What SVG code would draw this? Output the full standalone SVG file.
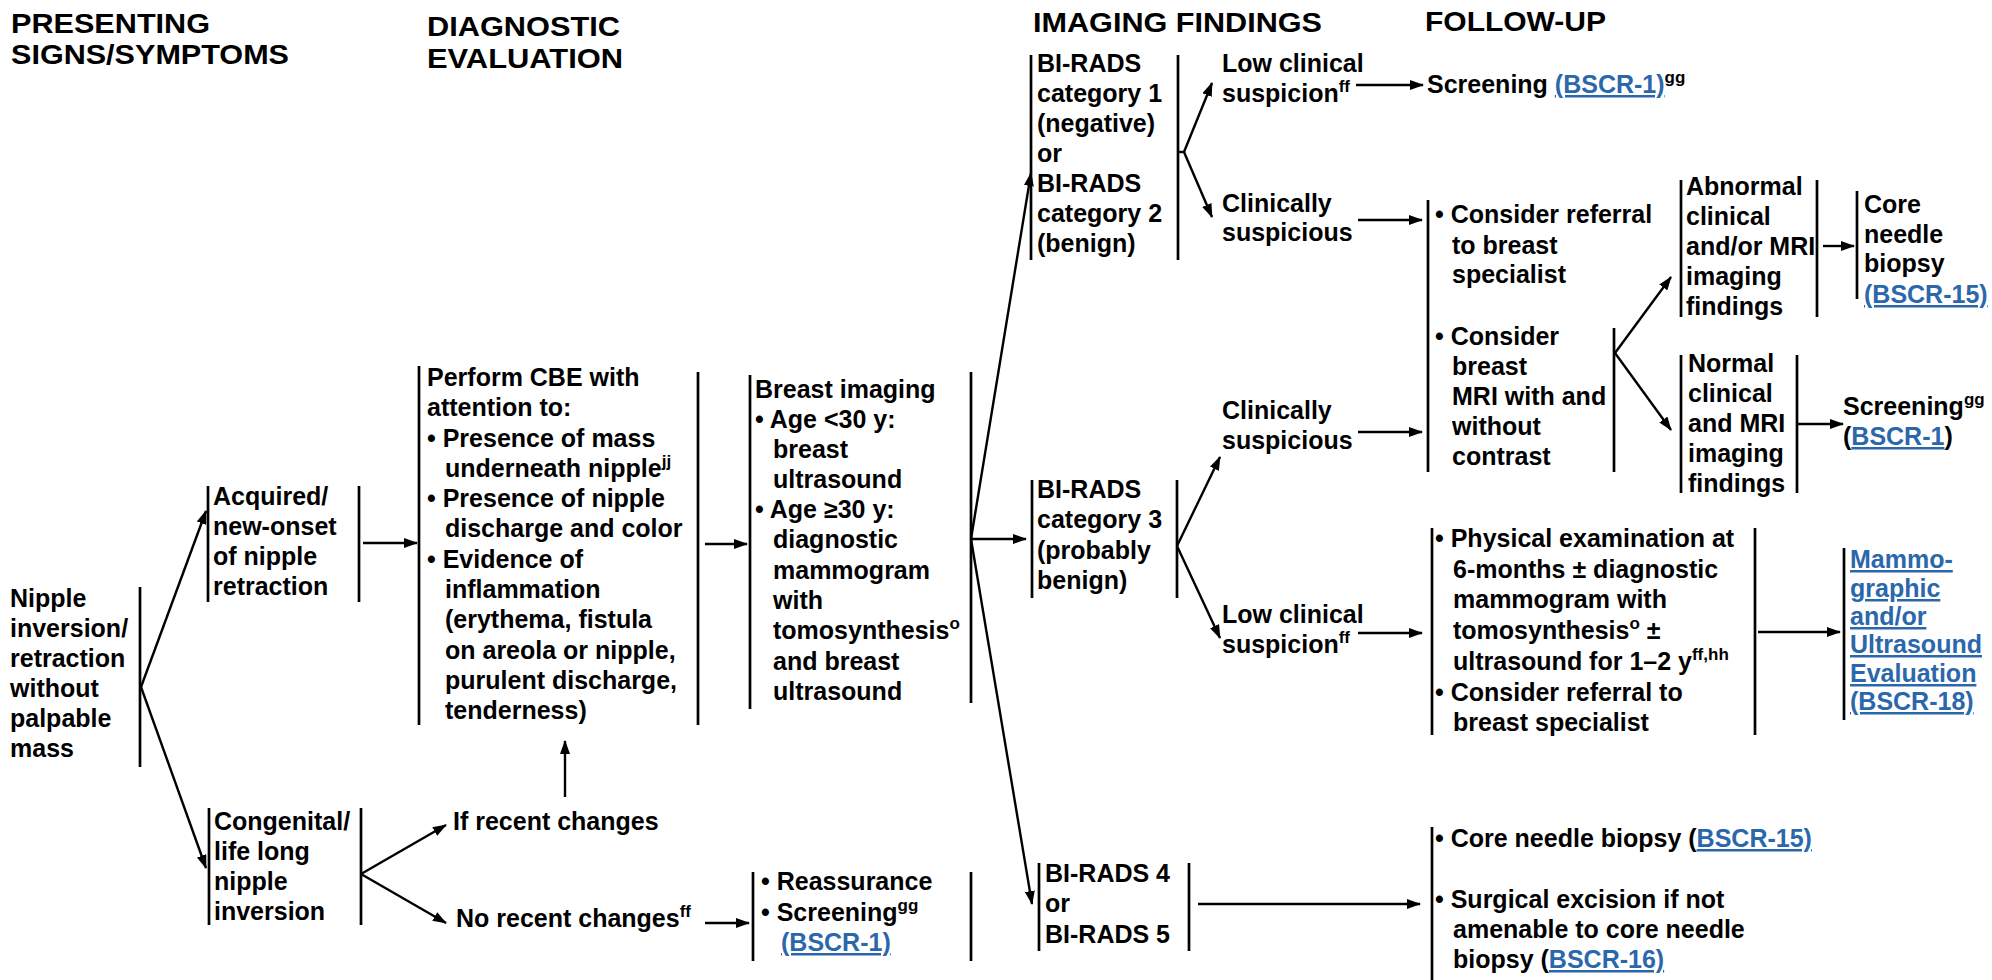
<svg xmlns="http://www.w3.org/2000/svg" width="1992" height="980" viewBox="0 0 1992 980">
  <defs>
    <style>
      text { font-family: "Liberation Sans", Arial, Helvetica, sans-serif; font-weight: bold; font-size: 25px; fill: #000; }
      .hdr { font-size: 28px; }
      .sup { font-size: 17px; }
      .link { fill: #2b67ab; text-decoration: underline; }
      .bar { stroke: #000; stroke-width: 2.7; fill: none; }
      .conn { stroke: #000; stroke-width: 2.4; fill: none; marker-end: url(#arrow); }
      .plain { stroke: #000; stroke-width: 2.4; fill: none; }
    </style>
    <marker id="arrow" viewBox="0 0 14 10" refX="13" refY="5" markerWidth="14" markerHeight="10" markerUnits="userSpaceOnUse" orient="auto">
      <path d="M0,0 L14,5 L0,10 z" fill="#000"/>
    </marker>
  </defs>

  <rect width="1992" height="980" fill="#fff"/>

  <!-- column headings -->
  <g id="headers">
    <text class="hdr" x="11" y="33" textLength="199" lengthAdjust="spacingAndGlyphs">PRESENTING</text>
    <text class="hdr" x="11" y="64" textLength="278" lengthAdjust="spacingAndGlyphs">SIGNS/SYMPTOMS</text>
    <text class="hdr" x="427" y="36" textLength="193" lengthAdjust="spacingAndGlyphs">DIAGNOSTIC</text>
    <text class="hdr" x="427" y="68" textLength="196" lengthAdjust="spacingAndGlyphs">EVALUATION</text>
    <text class="hdr" x="1033" y="32" textLength="289" lengthAdjust="spacingAndGlyphs">IMAGING FINDINGS</text>
    <text class="hdr" x="1425" y="31" textLength="181" lengthAdjust="spacingAndGlyphs">FOLLOW-UP</text>
  </g>

  <!-- connectors -->
  <g id="connectors">
    <line class="conn" x1="141" y1="687" x2="206" y2="511"/>
    <line class="conn" x1="141" y1="687" x2="206" y2="868"/>
    <line class="conn" x1="363" y1="543" x2="417" y2="543"/>
    <line class="conn" x1="705" y1="544" x2="747" y2="544"/>
    <line class="conn" x1="361" y1="874" x2="446" y2="825"/>
    <line class="conn" x1="361" y1="874" x2="446" y2="923"/>
    <line class="conn" x1="565" y1="797" x2="565" y2="741"/>
    <line class="conn" x1="705" y1="923" x2="749" y2="923"/>
    <line class="conn" x1="971" y1="539" x2="1031" y2="173"/>
    <line class="conn" x1="971" y1="539" x2="1026" y2="539"/>
    <line class="conn" x1="971" y1="539" x2="1032" y2="904"/>
    <line class="plain" x1="1178" y1="152" x2="1184" y2="152"/>
    <line class="conn" x1="1184" y1="152" x2="1212" y2="83"/>
    <line class="conn" x1="1184" y1="152" x2="1212" y2="217"/>
    <line class="conn" x1="1356" y1="85" x2="1423" y2="85"/>
    <line class="conn" x1="1358" y1="220" x2="1422" y2="220"/>
    <line class="conn" x1="1177" y1="546" x2="1220" y2="457"/>
    <line class="conn" x1="1177" y1="546" x2="1220" y2="638"/>
    <line class="conn" x1="1358" y1="432" x2="1422" y2="432"/>
    <line class="conn" x1="1358" y1="633" x2="1422" y2="633"/>
    <line class="conn" x1="1198" y1="904" x2="1420" y2="904"/>
    <line class="conn" x1="1615" y1="353" x2="1671" y2="277"/>
    <line class="conn" x1="1615" y1="353" x2="1671" y2="430"/>
    <line class="conn" x1="1823" y1="246" x2="1854" y2="246"/>
    <line class="conn" x1="1798" y1="424" x2="1843" y2="424"/>
    <line class="conn" x1="1758" y1="632" x2="1840" y2="632"/>
  </g>

  <!-- presenting sign -->
  <g id="n-nipple">
    <line class="bar" x1="140" y1="587" x2="140" y2="767"/>
    <text x="10" y="607">Nipple</text>
    <text x="10" y="637">inversion/</text>
    <text x="10" y="667">retraction</text>
    <text x="10" y="697">without</text>
    <text x="10" y="727">palpable</text>
    <text x="10" y="757">mass</text>
  </g>

  <g id="n-acquired">
    <line class="bar" x1="208" y1="486" x2="208" y2="602"/>
    <line class="bar" x1="359" y1="486" x2="359" y2="602"/>
    <text x="213" y="505">Acquired/</text>
    <text x="213" y="535">new-onset</text>
    <text x="213" y="565">of nipple</text>
    <text x="213" y="595">retraction</text>
  </g>

  <g id="n-congenital">
    <line class="bar" x1="209" y1="808" x2="209" y2="925"/>
    <line class="bar" x1="361" y1="808" x2="361" y2="925"/>
    <text x="214" y="830">Congenital/</text>
    <text x="214" y="860">life long</text>
    <text x="214" y="890">nipple</text>
    <text x="214" y="920">inversion</text>
  </g>

  <!-- diagnostic evaluation -->
  <g id="n-cbe">
    <line class="bar" x1="419" y1="366" x2="419" y2="725"/>
    <line class="bar" x1="698" y1="372" x2="698" y2="725"/>
    <text x="427" y="386">Perform CBE with</text>
    <text x="427" y="416">attention to:</text>
    <text x="427" y="447">• Presence of mass</text>
    <text x="445" y="477">underneath nipple<tspan class="sup" dy="-10">jj</tspan></text>
    <text x="427" y="507">• Presence of nipple</text>
    <text x="445" y="537">discharge and color</text>
    <text x="427" y="568">• Evidence of</text>
    <text x="445" y="598">inflammation</text>
    <text x="445" y="628">(erythema, fistula</text>
    <text x="445" y="659">on areola or nipple,</text>
    <text x="445" y="689">purulent discharge,</text>
    <text x="445" y="719">tenderness)</text>
  </g>

  <g id="n-if-recent">
    <text x="453" y="830">If recent changes</text>
  </g>

  <g id="n-no-recent">
    <text x="456" y="927">No recent changes<tspan class="sup" dy="-10">ff</tspan></text>
  </g>

  <g id="n-breast-imaging">
    <line class="bar" x1="750" y1="375" x2="750" y2="709"/>
    <line class="bar" x1="971" y1="372" x2="971" y2="703"/>
    <text x="755" y="398">Breast imaging</text>
    <text x="755" y="428">• Age &lt;30 y:</text>
    <text x="773" y="458">breast</text>
    <text x="773" y="488">ultrasound</text>
    <text x="755" y="518">• Age ≥30 y:</text>
    <text x="773" y="548">diagnostic</text>
    <text x="773" y="579">mammogram</text>
    <text x="773" y="609">with</text>
    <text x="773" y="639">tomosynthesis<tspan class="sup" dy="-10">o</tspan></text>
    <text x="773" y="670">and breast</text>
    <text x="773" y="700">ultrasound</text>
  </g>

  <g id="n-reassurance">
    <line class="bar" x1="753" y1="872" x2="753" y2="961"/>
    <line class="bar" x1="971" y1="872" x2="971" y2="961"/>
    <text x="761" y="890">• Reassurance</text>
    <text x="761" y="921">• Screening<tspan class="sup" dy="-10">gg</tspan></text>
    <text x="781" y="951" class="link">(BSCR-1)</text>
  </g>

  <!-- imaging findings -->
  <g id="n-birads-1-2">
    <line class="bar" x1="1031" y1="55" x2="1031" y2="260"/>
    <line class="bar" x1="1178" y1="55" x2="1178" y2="260"/>
    <text x="1037" y="72">BI-RADS</text>
    <text x="1037" y="102">category 1</text>
    <text x="1037" y="132">(negative)</text>
    <text x="1037" y="162">or</text>
    <text x="1037" y="192">BI-RADS</text>
    <text x="1037" y="222">category 2</text>
    <text x="1037" y="252">(benign)</text>
  </g>

  <g id="n-birads-3">
    <line class="bar" x1="1032" y1="480" x2="1032" y2="598"/>
    <line class="bar" x1="1177" y1="480" x2="1177" y2="598"/>
    <text x="1037" y="498">BI-RADS</text>
    <text x="1037" y="528">category 3</text>
    <text x="1037" y="559">(probably</text>
    <text x="1037" y="589">benign)</text>
  </g>

  <g id="n-birads-4-5">
    <line class="bar" x1="1039" y1="863" x2="1039" y2="951"/>
    <line class="bar" x1="1189" y1="863" x2="1189" y2="951"/>
    <text x="1045" y="882">BI-RADS 4</text>
    <text x="1045" y="912">or</text>
    <text x="1045" y="943">BI-RADS 5</text>
  </g>

  <g id="n-low-suspicion-1">
    <text x="1222" y="72">Low clinical</text>
    <text x="1222" y="102">suspicion<tspan class="sup" dy="-10">ff</tspan></text>
  </g>

  <g id="n-clin-suspicious-1">
    <text x="1222" y="212">Clinically</text>
    <text x="1222" y="241">suspicious</text>
  </g>

  <g id="n-clin-suspicious-2">
    <text x="1222" y="419">Clinically</text>
    <text x="1222" y="449">suspicious</text>
  </g>

  <g id="n-low-suspicion-2">
    <text x="1222" y="623">Low clinical</text>
    <text x="1222" y="653">suspicion<tspan class="sup" dy="-10">ff</tspan></text>
  </g>

  <!-- follow-up -->
  <g id="n-screening-1">
    <text x="1427" y="93">Screening <tspan class="link">(BSCR-1)</tspan><tspan class="sup" dy="-10">gg</tspan></text>
  </g>

  <g id="n-referral-mri">
    <line class="bar" x1="1428" y1="200" x2="1428" y2="472"/>
    <line class="bar" x1="1614" y1="328" x2="1614" y2="472"/>
    <text x="1435" y="223">• Consider referral</text>
    <text x="1452" y="254">to breast</text>
    <text x="1452" y="283">specialist</text>
    <text x="1435" y="345">• Consider</text>
    <text x="1452" y="375">breast</text>
    <text x="1452" y="405">MRI with and</text>
    <text x="1452" y="435">without</text>
    <text x="1452" y="465">contrast</text>
  </g>

  <g id="n-abnormal">
    <line class="bar" x1="1681" y1="180" x2="1681" y2="317"/>
    <line class="bar" x1="1817" y1="180" x2="1817" y2="317"/>
    <text x="1686" y="195">Abnormal</text>
    <text x="1686" y="225">clinical</text>
    <text x="1686" y="255">and/or MRI</text>
    <text x="1686" y="285">imaging</text>
    <text x="1686" y="315">findings</text>
  </g>

  <g id="n-core-biopsy-1">
    <line class="bar" x1="1857" y1="191" x2="1857" y2="299"/>
    <text x="1864" y="213">Core</text>
    <text x="1864" y="243">needle</text>
    <text x="1864" y="272">biopsy</text>
    <text x="1864" y="303" class="link">(BSCR-15)</text>
  </g>

  <g id="n-normal">
    <line class="bar" x1="1681" y1="355" x2="1681" y2="493"/>
    <line class="bar" x1="1797" y1="355" x2="1797" y2="493"/>
    <text x="1688" y="372">Normal</text>
    <text x="1688" y="402">clinical</text>
    <text x="1688" y="432">and MRI</text>
    <text x="1688" y="462">imaging</text>
    <text x="1688" y="492">findings</text>
  </g>

  <g id="n-screening-2">
    <text x="1843" y="415">Screening<tspan class="sup" dy="-10">gg</tspan></text>
    <text x="1843" y="445">(<tspan class="link">BSCR-1</tspan>)</text>
  </g>

  <g id="n-physical-exam">
    <line class="bar" x1="1432" y1="528" x2="1432" y2="735"/>
    <line class="bar" x1="1755" y1="528" x2="1755" y2="735"/>
    <text x="1435" y="547">• Physical examination at</text>
    <text x="1453" y="578">6-months ± diagnostic</text>
    <text x="1453" y="608">mammogram with</text>
    <text x="1453" y="639">tomosynthesis<tspan class="sup" dy="-10">o</tspan><tspan dy="10"> ±</tspan></text>
    <text x="1453" y="670">ultrasound for 1–2 y<tspan class="sup" dy="-10">ff,hh</tspan></text>
    <text x="1435" y="701">• Consider referral to</text>
    <text x="1453" y="731">breast specialist</text>
  </g>

  <g id="n-mammo-eval">
    <line class="bar" x1="1844" y1="548" x2="1844" y2="720"/>
    <text x="1850" y="568" class="link">Mammo-</text>
    <text x="1850" y="597" class="link">graphic</text>
    <text x="1850" y="625" class="link">and/or </text>
    <text x="1850" y="653" class="link">Ultrasound</text>
    <text x="1850" y="682" class="link">Evaluation</text>
    <text x="1850" y="710" class="link">(BSCR-18)</text>
  </g>

  <g id="n-core-surgical">
    <line class="bar" x1="1432" y1="827" x2="1432" y2="980"/>
    <text x="1435" y="847">• Core needle biopsy (<tspan class="link">BSCR-15)</tspan></text>
    <text x="1435" y="908">• Surgical excision if not</text>
    <text x="1453" y="938">amenable to core needle</text>
    <text x="1453" y="968">biopsy (<tspan class="link">BSCR-16)</tspan></text>
  </g>
</svg>
